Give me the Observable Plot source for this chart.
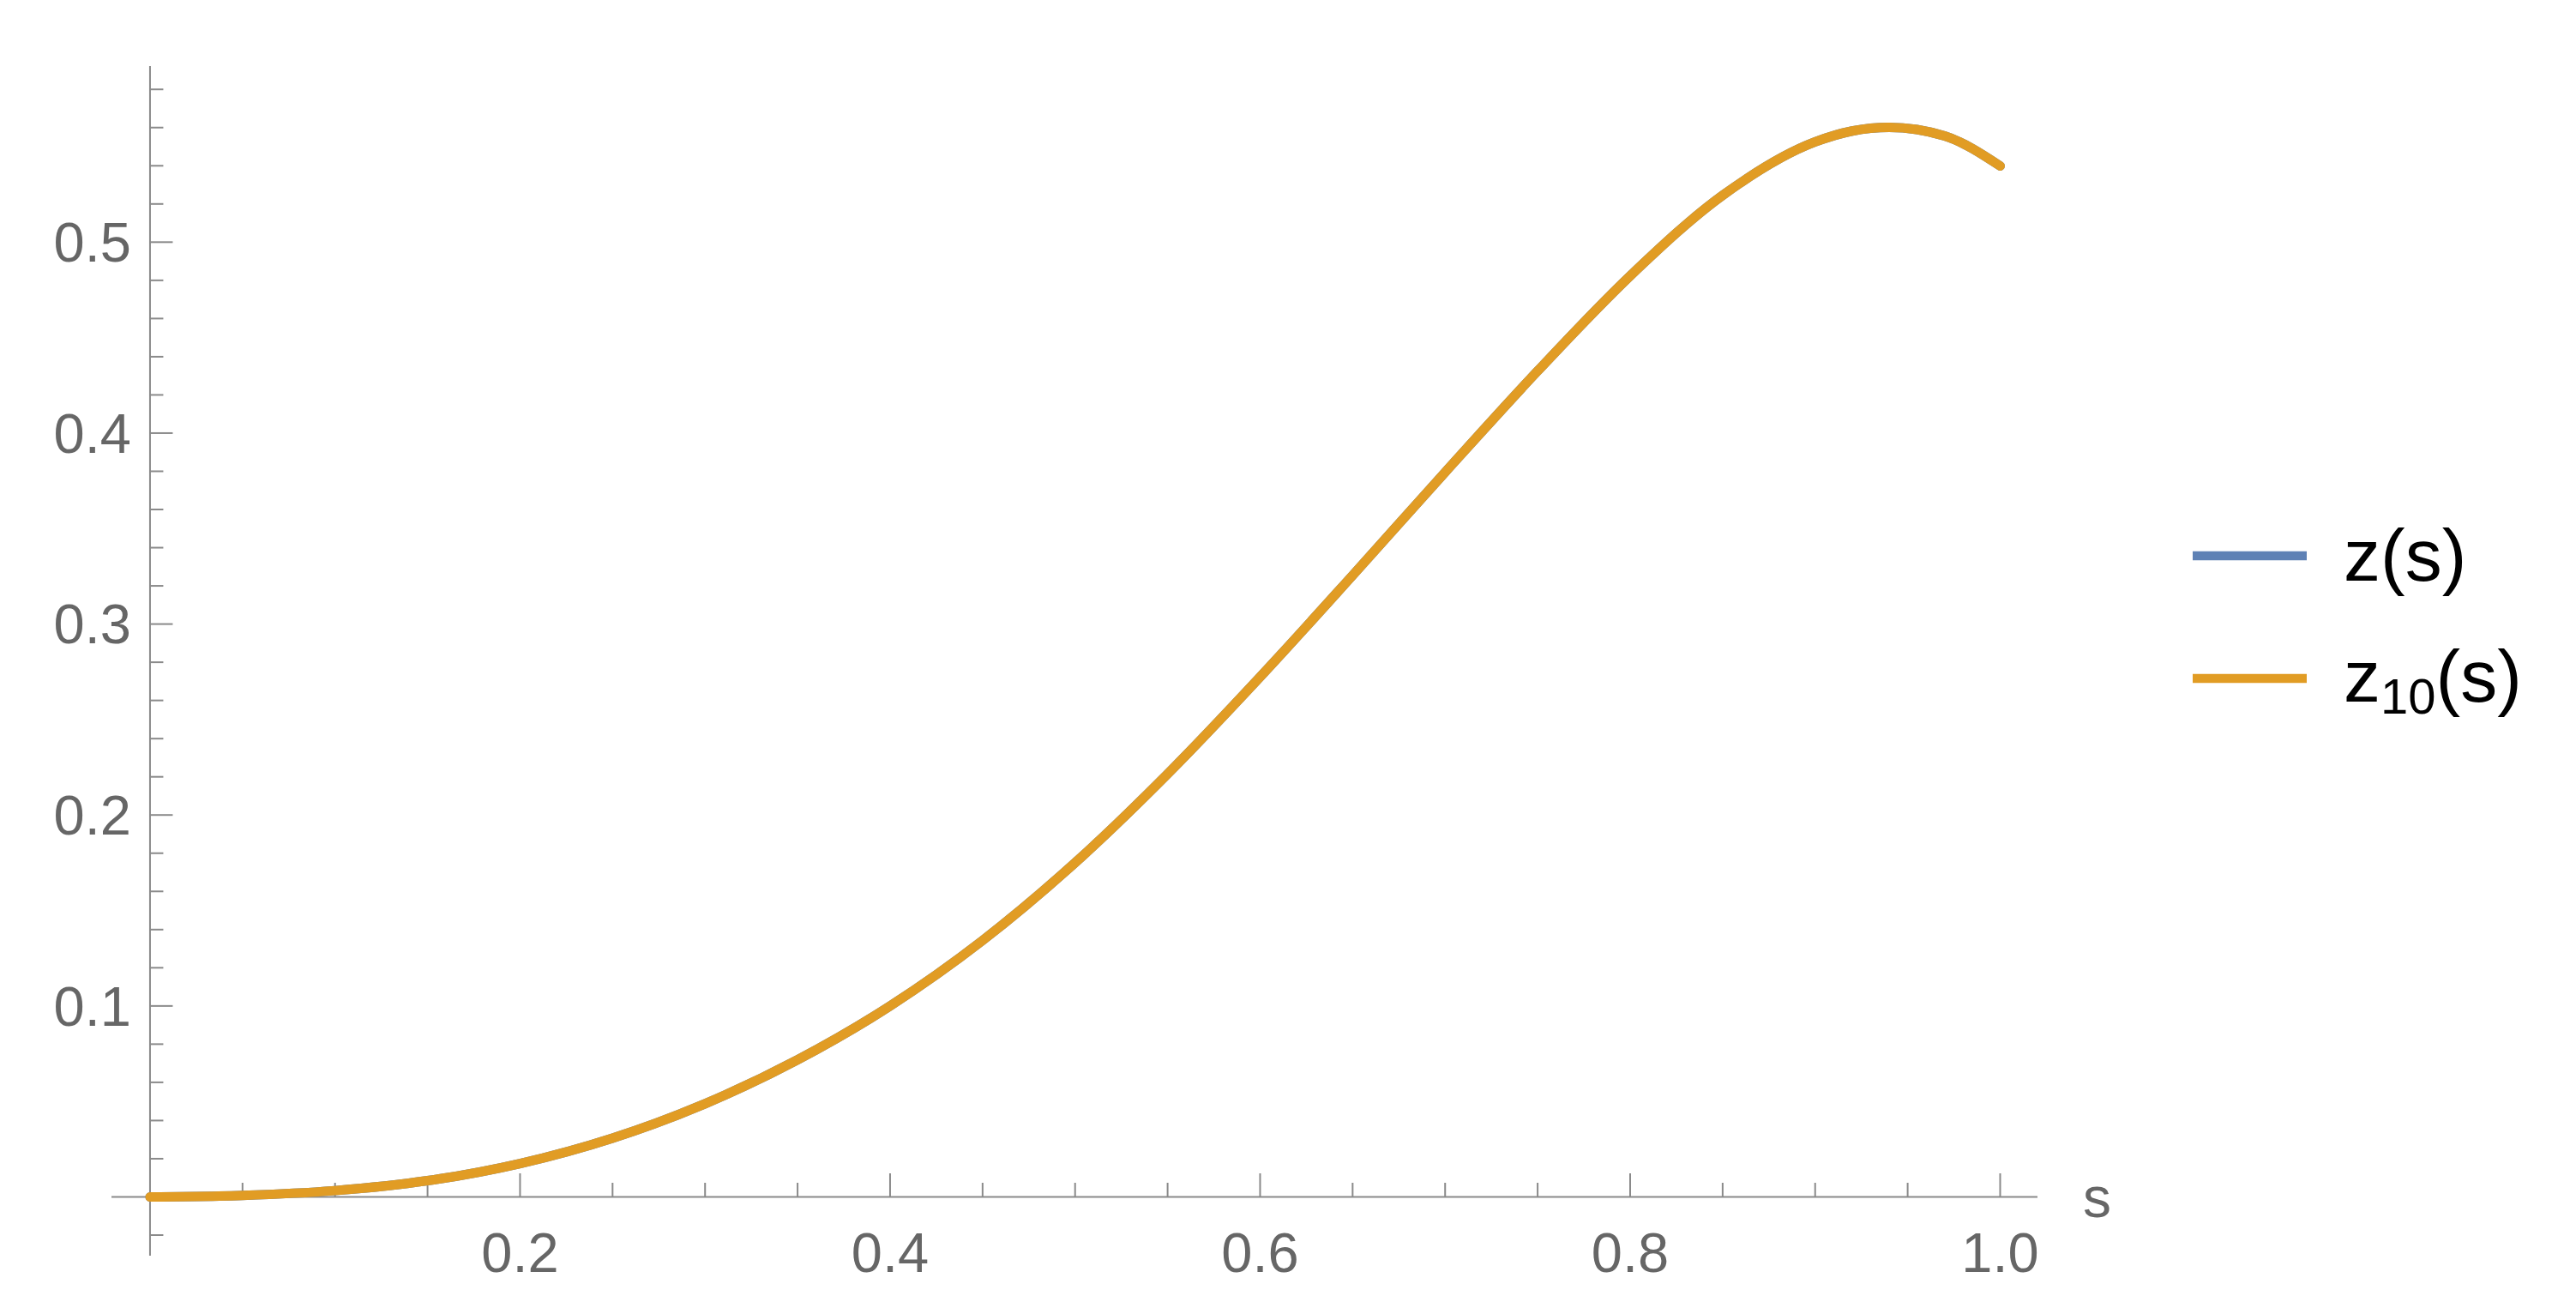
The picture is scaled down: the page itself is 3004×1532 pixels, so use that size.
<!DOCTYPE html>
<html>
<head>
<meta charset="utf-8">
<script src="https://cdn.jsdelivr.net/npm/d3@7"></script>
<script src="https://cdn.jsdelivr.net/npm/@observablehq/plot@0.6"></script>
<style>
  html, body { margin: 0; padding: 0; background: #fff; }
  #wrap { position: relative; width: 3004px; height: 1532px; }
  #legend { position: absolute; left: 2500px; top: 500px; }
</style>
</head>
<body>
<div id="wrap"></div>
<script>
// ---- data ----
const sValues   = [0, 0.05, 0.1, 0.15, 0.2, 0.25, 0.3, 0.35, 0.4, 0.45, 0.5, 0.55, 0.6, 0.65, 0.7, 0.75, 0.8, 0.85, 0.9, 0.92, 0.94, 0.97, 1.0];
const zValues   = [0, 0.0008, 0.0033, 0.0085, 0.0175, 0.0308, 0.0488, 0.0718, 0.1, 0.1343, 0.175, 0.2215, 0.2723, 0.3255, 0.3795, 0.4325, 0.4823, 0.5245, 0.5525, 0.5582, 0.5601, 0.5556, 0.5399];
const z10Values = [0, 0.0008, 0.0033, 0.0085, 0.0175, 0.0308, 0.0488, 0.0718, 0.1, 0.1343, 0.175, 0.2215, 0.2723, 0.3255, 0.3795, 0.4325, 0.4823, 0.5245, 0.5525, 0.5582, 0.5601, 0.5556, 0.5399];
const seriesNames  = ["z(s)", "z10(s)"];
const seriesColors = ["#5E81B5", "#E19C24"];
const xTickLabels = [0.2, 0.4, 0.6, 0.8, 1.0];
const xMinorTicks = [0.05, 0.1, 0.15, 0.25, 0.3, 0.35, 0.45, 0.5, 0.55, 0.65, 0.7, 0.75, 0.85, 0.9, 0.95];
const yTickLabels = [0.1, 0.2, 0.3, 0.4, 0.5];
const yMinorTicks = [-0.02, 0.02, 0.04, 0.06, 0.08, 0.12, 0.14, 0.16, 0.18, 0.22, 0.24, 0.26, 0.28,
                     0.32, 0.34, 0.36, 0.38, 0.42, 0.44, 0.46, 0.48, 0.52, 0.54, 0.56, 0.58];
const xAxisLabel = "s";

// ---- table ----
const table = [];
sValues.forEach((s, i) => table.push({s, value: zValues[i], series: seriesNames[0]}));
sValues.forEach((s, i) => table.push({s, value: z10Values[i], series: seriesNames[1]}));

const axisColor = "#8a8a8a";
const labelColor = "#666666";
const font = "'Liberation Sans', Arial, sans-serif";
const xDomain = [-0.0206, 1.0204];

const chart = Plot.plot({
  width: 3004,
  height: 1532,
  marginLeft: 130,
  marginRight: 628,
  marginTop: 77,
  marginBottom: 68,
  x: {domain: xDomain, axis: null},
  y: {domain: [-0.031, 0.592], axis: null},
  color: {domain: seriesNames, range: seriesColors},
  style: {fontFamily: font, background: "#fff"},
  marks: [
    Plot.ruleY([0], {stroke: axisColor, strokeWidth: 2}),
    Plot.ruleX([0], {stroke: axisColor, strokeWidth: 2}),
    Plot.ruleX(xMinorTicks, {x: d => d, y1: 0, y2: 0, insetTop: -16, stroke: axisColor, strokeWidth: 2}),
    Plot.ruleX(xTickLabels, {x: d => d, y1: 0, y2: 0, insetTop: -27, stroke: axisColor, strokeWidth: 2}),
    Plot.ruleY(yMinorTicks, {y: d => d, x1: 0, x2: 0, insetRight: -16, stroke: axisColor, strokeWidth: 2}),
    Plot.ruleY(yTickLabels, {y: d => d, x1: 0, x2: 0, insetRight: -27, stroke: axisColor, strokeWidth: 2}),
    Plot.line(table, {x: "s", y: "value", stroke: "series", z: "series", strokeWidth: 11, curve: "monotone-x"}),
    Plot.text(xTickLabels, {x: d => d, y: 0, text: d => d.toFixed(1), dy: 67, fontSize: 65, fill: labelColor}),
    Plot.text(yTickLabels, {x: 0, y: d => d, text: d => d.toFixed(1), textAnchor: "end", dx: -22, dy: 2, fontSize: 65, fill: labelColor}),
    Plot.text([xAxisLabel], {x: xDomain[1], y: 0, text: d => d, dx: 69, dy: 2, fontSize: 66, fill: labelColor})
  ]
});

const wrap = document.getElementById("wrap");
wrap.appendChild(chart);

// ---- legend (to the right of the plot) ----
const leg = d3.select(wrap).append("svg")
  .attr("id", "legend")
  .attr("width", 504).attr("height", 450)
  .style("font-family", font);

const rows = [
  {name: "z", sub: "", color: seriesColors[0], lineY: 148, baseY: 177},
  {name: "z", sub: "10", color: seriesColors[1], lineY: 291, baseY: 318}
];
rows.forEach(r => {
  leg.append("line")
    .attr("x1", 57).attr("x2", 190)
    .attr("y1", r.lineY).attr("y2", r.lineY)
    .attr("stroke", r.color).attr("stroke-width", 10.5);
  const t = leg.append("text")
    .attr("x", 233).attr("y", r.baseY)
    .attr("font-size", 86).attr("fill", "#000");
  t.append("tspan").text(r.name);
  if (r.sub) {
    t.append("tspan").attr("font-size", 58).attr("dy", 14).text(r.sub);
    t.append("tspan").attr("dy", -14).text("(s)");
  } else {
    t.append("tspan").text("(s)");
  }
});
</script>
</body>
</html>
